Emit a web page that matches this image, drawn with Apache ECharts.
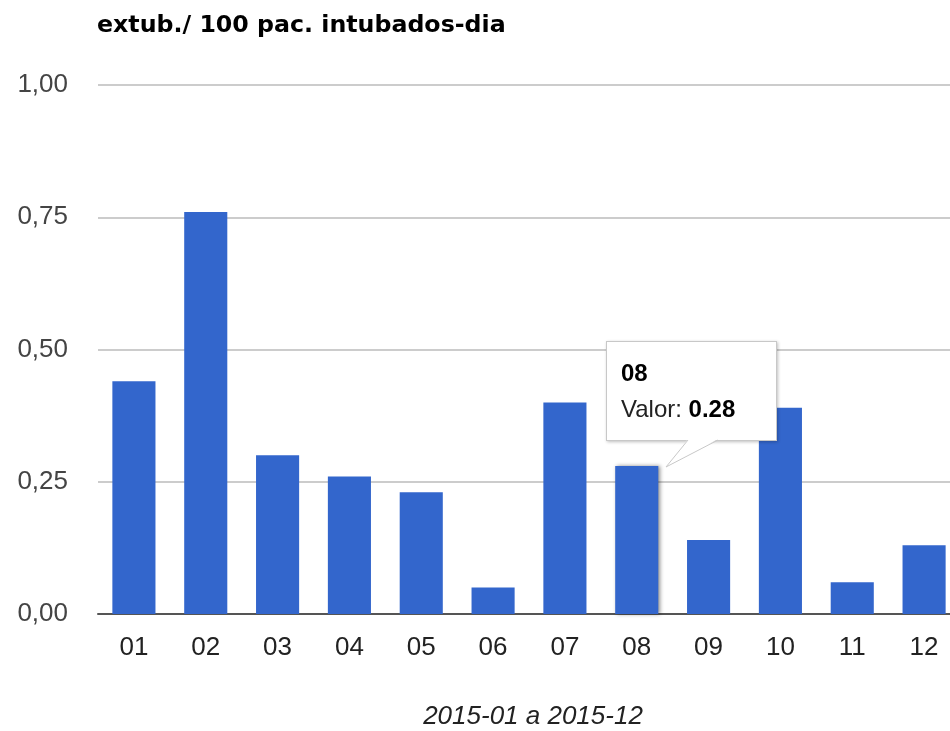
<!DOCTYPE html>
<html>
<head>
<meta charset="utf-8">
<script src="https://cdn.jsdelivr.net/npm/echarts@6/dist/echarts.min.js"></script>
<style>
  html, body { margin: 0; padding: 0; background: #fff; overflow: hidden; }
  #chart { width: 950px; height: 731px; }
</style>
</head>
<body>
<div id="chart"></div>
<script>
const titleText = 'extub./ 100 pac. intubados-dia';
const xAxisName = '2015-01 a 2015-12';
const categories = ['01', '02', '03', '04', '05', '06', '07', '08', '09', '10', '11', '12'];
const values = [0.44, 0.76, 0.30, 0.26, 0.23, 0.05, 0.40, 0.28, 0.14, 0.39, 0.06, 0.13];
const yTicks = [0, 0.25, 0.5, 0.75, 1.0];
const tooltipIndex = 7;
const valueLabel = 'Valor';

const chart = echarts.init(document.getElementById('chart'), null, { renderer: 'canvas' });

function fmtComma(v) { return v.toFixed(2).replace('.', ','); }

const option = {
  animation: false,
  backgroundColor: '#ffffff',
  title: {
    text: titleText,
    left: 97, top: 14, padding: 0,
    textStyle: { fontFamily: 'DejaVu Sans', fontSize: 23.7, fontWeight: 'bold', color: '#000' }
  },
  grid: { left: 98, top: 85, width: 862, height: 529, containLabel: false, outerBoundsMode: 'none' },
  tooltip: {
    trigger: 'item',
    alwaysShowContent: true,
    showDelay: 0,
    hideDelay: 0,
    transitionDuration: 0,
    padding: 0,
    borderWidth: 0,
    backgroundColor: 'transparent',
    extraCssText: 'box-shadow:none;overflow:visible;',
    position: function (point, params) {
      const p = chart.convertToPixel({ seriesIndex: 0 }, [params.dataIndex, params.value]);
      return [p[0] - 31, p[1] - 125];
    },
    formatter: function (params) {
      return '<div style="position:relative;width:169px;height:98px;background:#fff;border:1px solid #c8c8c8;box-shadow:1px 1px 3px rgba(0,0,0,0.25);font-family:Arial,\'Liberation Sans\',sans-serif;color:#000;">' +
        '<svg width="120" height="40" style="position:absolute;left:0;top:97px;overflow:visible">' +
        '<polygon points="81,0 111,0 59,28" fill="#fff" stroke="none"/>' +
        '<polyline points="81,1 59,28 111,1" fill="none" stroke="#c8c8c8" stroke-width="1"/>' +
        '</svg>' +
        '<div style="position:absolute;left:14px;top:17px;font-size:24px;font-weight:bold;line-height:28px;">' + params.name + '</div>' +
        '<div style="position:absolute;left:14px;top:53px;font-size:24px;line-height:28px;color:#222;white-space:nowrap;">' + valueLabel + ': <b style="color:#000">' + params.value.toFixed(2) + '</b></div>' +
        '</div>';
    }
  },
  xAxis: {
    type: 'category',
    data: categories,
    name: xAxisName,
    nameLocation: 'middle',
    nameGap: 90,
    nameTextStyle: { fontFamily: 'Arial, Liberation Sans', fontSize: 26, fontStyle: 'italic', color: '#222', padding: [0, 0, 0, 8] },
    axisLine: { lineStyle: { color: '#555', width: 2 } },
    axisTick: { show: false },
    axisLabel: { margin: 21, fontFamily: 'Arial, Liberation Sans', fontSize: 26, color: '#222' }
  },
  yAxis: {
    type: 'value',
    min: 0, max: 1, interval: 0.25,
    axisLine: { show: false },
    axisTick: { show: false },
    splitLine: { lineStyle: { color: '#cccccc', width: 2 } },
    axisLabel: { margin: 30, fontFamily: 'Arial, Liberation Sans', fontSize: 26, color: '#444', formatter: fmtComma }
  },
  series: [{
    type: 'bar',
    data: values,
    barCategoryGap: '40%',
    itemStyle: { color: '#3366cc' },
    emphasis: {
      itemStyle: { color: '#3366cc', shadowBlur: 4, shadowOffsetX: 2, shadowColor: 'rgba(0,0,0,0.45)' }
    }
  }]
};

chart.setOption(option);
chart.dispatchAction({ type: 'highlight', seriesIndex: 0, dataIndex: tooltipIndex });
chart.dispatchAction({ type: 'showTip', seriesIndex: 0, dataIndex: tooltipIndex });
</script>
</body>
</html>
